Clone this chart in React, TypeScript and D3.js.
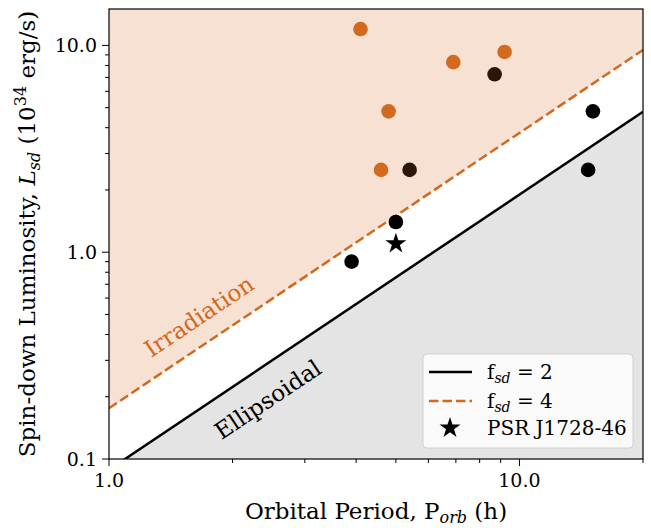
import * as d3 from 'd3';
import React from 'react';

// period (h) and spin-down luminosity (1e34 erg/s)
const irradiatedP = [4.1, 6.9, 9.2, 4.8, 4.6];
const irradiatedL = [12.0, 8.3, 9.3, 4.8, 2.5];
const mixedP = [8.7, 5.4];
const mixedL = [7.25, 2.5];
const ellipsoidalP = [5.0, 3.9, 15.1, 14.7];
const ellipsoidalL = [1.4, 0.9, 4.8, 2.5];
const targetP = [5.0];
const targetL = [1.1];

// boundary lines (straight in log-log), endpoints
const lineP = [1, 20];
const fsd2L = [0.0887, 4.78];
const fsd4L = [0.176, 9.5];

const xTicks = [1, 10];
const xTickLabels = ['1.0', '10.0'];
const xMinor = [2, 3, 4, 5, 6, 7, 8, 9, 20];
const yTicks = [0.1, 1, 10];
const yTickLabels = ['0.1', '1.0', '10.0'];
const yMinor = [0.2, 0.3, 0.4, 0.5, 0.6, 0.7, 0.8, 0.9, 2, 3, 4, 5, 6, 7, 8, 9];

// text annotations in data coords
const irradiationAt = [1.7, 0.455];
const ellipsoidalAt = [2.5, 0.18];

const ORANGE = '#d2691e';
const FONT = '"DejaVu Serif", serif';

const W = 651;
const H = 528;
const margin = { left: 109, right: 8, top: 9, bottom: 69 };

const App = () => {
  const x = d3.scaleLog().domain([1, 20]).range([margin.left, W - margin.right]);
  const y = d3.scaleLog().domain([0.1, 15]).range([H - margin.bottom, margin.top]);
  const [x0, x1] = x.range();
  const [y0, y1] = y.range();

  const pts = (ps: number[], ls: number[]) => ps.map((p, i) => [p, ls[i]]);
  const line = d3.line<number[]>().x(d => x(d[0])).y(d => y(d[1]));
  const fsd2 = pts(lineP, fsd2L);
  const fsd4 = pts(lineP, fsd4L);

  // regions
  const irrArea = line([...fsd4, [20, 1e3], [1, 1e3]]) + 'Z';
  const ellArea = line([...fsd2, [20, 1e-3], [1, 1e-3]]) + 'Z';

  const star = d3.symbol(d3.symbolStar, 136)();
  const slope = (Math.atan2(y(fsd2[1][1]) - y(fsd2[0][1]), x(fsd2[1][0]) - x(fsd2[0][0])) * 180) / Math.PI;

  const dots = (ps: number[], ls: number[], color: string) =>
    pts(ps, ls).map((d, i) => <circle key={color + i} cx={x(d[0])} cy={y(d[1])} r={7.3} fill={color} />);

  const lgX = 423, lgY = 354;

  return (
    <svg width={W} height={H} style={{ position: 'absolute', left: 0, top: 0 }} fontFamily={FONT}>
      <defs>
        <clipPath id="plotArea">
          <rect x={x0} y={y1} width={x1 - x0} height={y0 - y1} />
        </clipPath>
      </defs>
      <rect width={W} height={H} fill="#fff" />
      <g clipPath="url(#plotArea)">
        <path d={irrArea} fill="#f6e1d3" />
        <path d={ellArea} fill="#e4e4e4" />
        <path d={line(fsd2)!} fill="none" stroke="#000" strokeWidth={2.5} />
        <path d={line(fsd4)!} fill="none" stroke={ORANGE} strokeWidth={2.5} strokeDasharray="9.5,4" />
        {dots(irradiatedP, irradiatedL, ORANGE)}
        {dots(mixedP, mixedL, '#2b1608')}
        {dots(ellipsoidalP, ellipsoidalL, '#000')}
        {pts(targetP, targetL).map((d, i) => (
          <path key={i} d={star!} transform={`translate(${x(d[0])},${y(d[1])})`} fill="#000" />
        ))}
      </g>

      <text
        transform={`translate(${x(irradiationAt[0])},${y(irradiationAt[1])}) rotate(${slope})`}
        textAnchor="middle" fontSize={23} fill={ORANGE}>Irradiation</text>
      <text
        transform={`translate(${x(ellipsoidalAt[0])},${y(ellipsoidalAt[1])}) rotate(${slope})`}
        textAnchor="middle" fontSize={23} fill="#000">Ellipsoidal</text>

      {/* legend */}
      <g>
        <rect x={lgX} y={lgY} width={210} height={94} rx={4} fill="#fff" fillOpacity={0.8} stroke="#d0d0d0" />
        <line x1={429} x2={472} y1={372} y2={372} stroke="#000" strokeWidth={2.5} />
        <line x1={429} x2={472} y1={401} y2={401} stroke={ORANGE} strokeWidth={2.5} strokeDasharray="9.5,4" />
        <path d={star!} transform="translate(450,428)" fill="#000" />
        <text x={487} y={379} fontSize={20}>f<tspan fontSize={14} fontStyle="italic" dy={4}>sd</tspan><tspan dy={-4}> = 2</tspan></text>
        <text x={487} y={408} fontSize={20}>f<tspan fontSize={14} fontStyle="italic" dy={4}>sd</tspan><tspan dy={-4}> = 4</tspan></text>
        <text x={487} y={435} fontSize={20}>PSR J1728-46</text>
      </g>

      {/* frame */}
      <rect x={x0} y={y1} width={x1 - x0} height={y0 - y1} fill="none" stroke="#000" strokeWidth={1.2} />

      {/* x axis */}
      {xTicks.map((t, i) => (
        <g key={'xt' + t}>
          <line x1={x(t)} x2={x(t)} y1={y0} y2={y0 + 7} stroke="#000" />
          <text x={x(t)} y={487} textAnchor="middle" fontSize={19}>{xTickLabels[i]}</text>
        </g>
      ))}
      {xMinor.map(t => <line key={'xm' + t} x1={x(t)} x2={x(t)} y1={y0} y2={y0 + 4} stroke="#000" />)}
      <text x={(x0 + x1) / 2} y={519} textAnchor="middle" fontSize={23}>
        Orbital Period, P<tspan fontSize={16} fontStyle="italic" dy={4}>orb</tspan><tspan dy={-4}> (h)</tspan>
      </text>

      {/* y axis */}
      {yTicks.map((t, i) => (
        <g key={'yt' + t}>
          <line x1={x0 - 7} x2={x0} y1={y(t)} y2={y(t)} stroke="#000" />
          <text x={97} y={y(t) + 7} textAnchor="end" fontSize={19}>{yTickLabels[i]}</text>
        </g>
      ))}
      {yMinor.map(t => <line key={'ym' + t} x1={x0 - 4} x2={x0} y1={y(t)} y2={y(t)} stroke="#000" />)}
      <text transform={`translate(35,${(y0 + y1) / 2}) rotate(-90)`} textAnchor="middle" fontSize={23}>
        Spin-down Luminosity, <tspan fontStyle="italic">L</tspan>
        <tspan fontSize={16} fontStyle="italic" dy={5}>sd</tspan>
        <tspan dy={-5}> (10</tspan>
        <tspan fontSize={16} dy={-9}>34</tspan>
        <tspan dy={9}> erg/s)</tspan>
      </text>
    </svg>
  );
};

export default App;
